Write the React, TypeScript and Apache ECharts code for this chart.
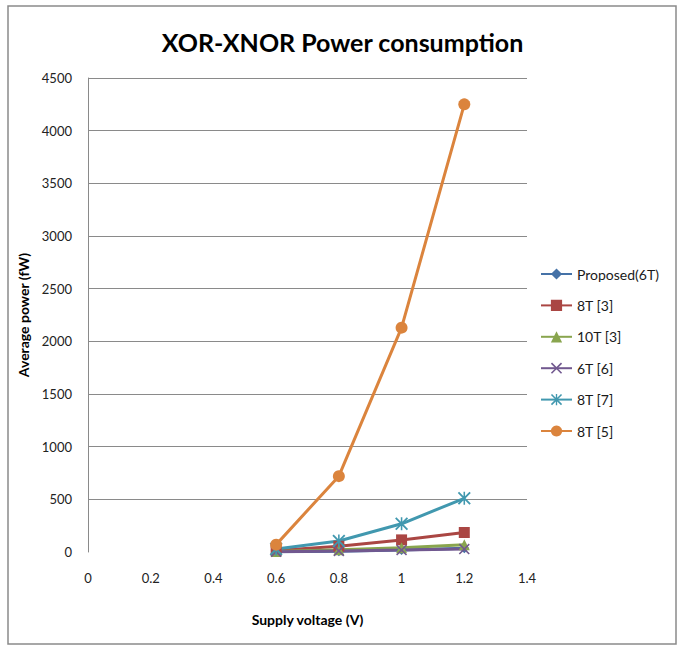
import React, { useEffect, useRef } from "react";
import * as echarts from "echarts";

const voltages = [0.6, 0.8, 1.0, 1.2];
const seriesNames = ["Proposed(6T)", "8T [3]", "10T [3]", "6T [6]", "8T [7]", "8T [5]"];
const proposed6T = [2, 8, 18, 35];
const t8ref3 = [15, 55, 115, 185];
const t10ref3 = [5, 22, 40, 68];
const t6ref6 = [3, 10, 18, 28];
const t8ref7 = [28, 105, 268, 510];
const t8ref5 = [70, 720, 2130, 4250];
const xTicks = [0, 0.2, 0.4, 0.6, 0.8, 1, 1.2, 1.4];
const yTicks = [0, 500, 1000, 1500, 2000, 2500, 3000, 3500, 4000, 4500];

const colors = ["#4572A7", "#AA4643", "#89A54E", "#71588F", "#4198AF", "#DB843D"];
const xPath = "path://M0,1 L1,0 L5,4 L9,0 L10,1 L6,5 L10,9 L9,10 L5,6 L1,10 L0,9 L4,5 Z";
const starPath =
  "path://M0,1 L1,0 L5,4 L9,0 L10,1 L6,5 L10,9 L9,10 L5,6 L1,10 L0,9 L4,5 Z M4.4,0 L5.6,0 L5.6,10 L4.4,10 Z";
const symbols = ["diamond", "rect", "triangle", xPath, starPath, "circle"];
const symbolSizes = [10, 11, 11, 11, 13, 12];

export default function App() {
  const ref = useRef<HTMLDivElement>(null);
  useEffect(() => {
    if (!ref.current) return;
    const chart = echarts.init(ref.current, null, { renderer: "svg" });
    const dataSets = [proposed6T, t8ref3, t10ref3, t6ref6, t8ref7, t8ref5];
    const font = "Lato, 'Open Sans', sans-serif";
    chart.setOption({
      animation: false,
      backgroundColor: "#ffffff",
      textStyle: { fontFamily: font },
      title: {
        text: "XOR-XNOR Power consumption",
        left: "center",
        top: 24,
        textStyle: { fontFamily: font, fontSize: 25, fontWeight: "bold", color: "#000" },
      },
      graphic: [
        {
          type: "rect",
          shape: { x: 8, y: 6, width: 668, height: 638 },
          style: { fill: "none", stroke: "#8a8a8a", lineWidth: 1.5 },
          silent: true,
        },
      ],
      grid: { left: 88, right: 158, top: 78, bottom: 94 },
      legend: {
        orient: "vertical",
        left: 535,
        top: 262,
        itemWidth: 31,
        itemHeight: 14,
        itemGap: 17.4,
        textStyle: { fontFamily: font, fontSize: 14, color: "#1a1a1a" },
        data: seriesNames,
      },
      xAxis: {
        type: "value",
        min: 0,
        max: 1.4,
        interval: 0.2,
        name: "Supply voltage (V)",
        nameLocation: "middle",
        nameGap: 60,
        nameTextStyle: { fontFamily: font, fontSize: 14, fontWeight: "bold", color: "#000" },
        axisLine: { show: false },
        axisTick: { show: false },
        splitLine: { show: false },
        axisLabel: {
          margin: 19,
          fontSize: 13,
          color: "#222",
          formatter: (v: number) => {
            const t = xTicks.find((k) => Math.abs(k - v) < 1e-6);
            return t === undefined ? "" : String(t);
          },
        },
      },
      yAxis: {
        type: "value",
        min: 0,
        max: 4500,
        interval: 500,
        name: "Average power (fW)",
        nameLocation: "middle",
        nameGap: 58,
        nameTextStyle: { fontFamily: font, fontSize: 14, fontWeight: "bold", color: "#000" },
        axisLine: { show: true, lineStyle: { color: "#8a8a8a", width: 1 } },
        axisTick: { show: false },
        splitLine: { show: true, showMinLine: false, lineStyle: { color: "#8a8a8a", width: 1 } },
        axisLabel: {
          margin: 16,
          fontSize: 13,
          color: "#222",
          formatter: (v: number) => (yTicks.includes(v) ? String(v) : ""),
        },
      },
      series: seriesNames.map((name, i) => ({
        name,
        type: "line",
        data: voltages.map((v, j) => [v, dataSets[i][j]]),
        symbol: symbols[i],
        symbolSize: symbolSizes[i],
        showSymbol: true,
        lineStyle: { color: colors[i], width: 3 },
        itemStyle: { color: colors[i] },
        emphasis: { disabled: true },
      })),
    });
    return () => chart.dispose();
  }, []);
  return (
    <div
      ref={ref}
      style={{ position: "fixed", left: 0, top: 0, width: 685, height: 646 }}
    />
  );
}
